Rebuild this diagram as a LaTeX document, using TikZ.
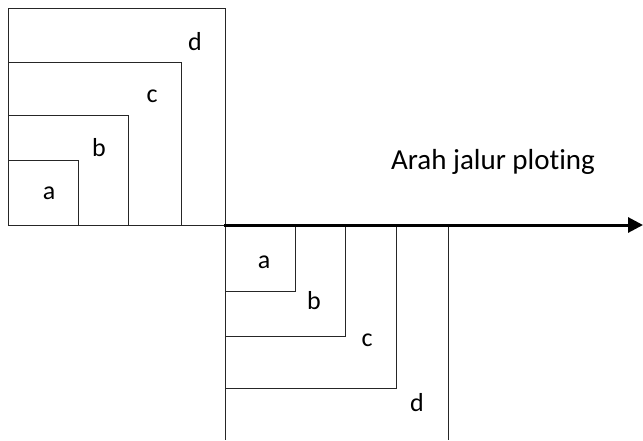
\documentclass[tikz,border=0pt]{standalone}
\usepackage{fontspec}
\setmainfont[Ligatures=NoCommon]{Carlito}
\usetikzlibrary{arrows.meta}
\begin{document}
\begin{tikzpicture}[x=1pt,y=-1pt,
  box/.style={draw=black!85,line width=0.9pt},
  lbl/.style={font=\fontsize{26}{28}\selectfont,inner sep=0pt},
  axis/.style={line width=3pt,-{Triangle[length=15pt,width=15pt]}}]
\useasboundingbox (0,0) rectangle (643,440);
\fill[white] (0,0) rectangle (643,440);
% top-left nested boxes
\draw[box] (8,8) rectangle (225,225);
\draw[box] (8,62) -| (181,225);
\draw[box] (8,115) -| (128,225);
\draw[box] (8,160) -| (78,225);
\node[lbl] (ld1) at (195,42) {d};
\node[lbl] (lc1) at (152,96) {c};
\node[lbl] (lb1) at (99,148) {b};
\node[lbl] (la1) at (49,193) {a};
% bottom nested boxes
\draw[box] (225,225) -- (225,440);
\draw[box] (225,291) -| (295,225);
\draw[box] (225,336) -| (345,225);
\draw[box] (225,388) -| (396,225);
\draw[box] (448,225) -- (448,440);
\node[lbl] (la2) at (264,262) {a};
\node[lbl] (lb2) at (314,301) {b};
\node[lbl] (lc2) at (367,340) {c};
\node[lbl] (ld2) at (417,403) {d};
% axis
\coordinate (O) at (224,225);
\coordinate (E) at (643,225);
\draw[axis] (O) -- (E);
\node[font=\fontsize{29}{31}\selectfont,inner sep=0pt] (t) at (493,162) {Arah jalur ploting};
\end{tikzpicture}
\end{document}
